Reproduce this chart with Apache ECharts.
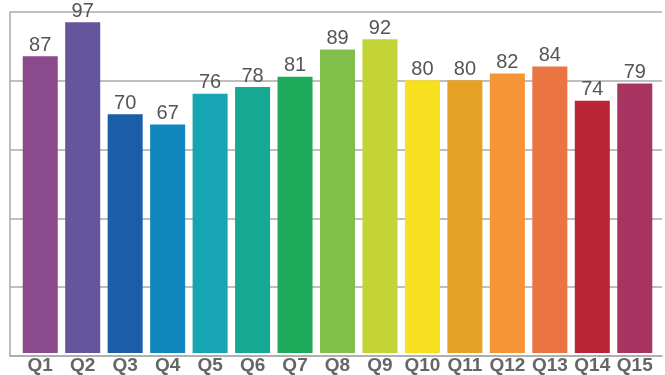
<!DOCTYPE html>
<html><head><meta charset="utf-8">
<script src="https://cdn.jsdelivr.net/npm/echarts@6/dist/echarts.min.js"></script>
<style>html,body{margin:0;padding:0;background:#fff}#c{width:665px;height:375px}</style>
</head><body><div id="c"></div>
<script>
var categories = ['Q1','Q2','Q3','Q4','Q5','Q6','Q7','Q8','Q9','Q10','Q11','Q12','Q13','Q14','Q15'];
var values = [87,97,70,67,76,78,81,89,92,80,80,82,84,74,79];
var colors = ['#8A4A8C','#65559C','#1B5EA8','#1187BE','#17A5B4','#16A892','#1DAA5A','#80C04A','#C4D335','#F8E020','#E5A227','#F59536','#EB7443','#BA2535','#A83461'];
var font = 'Liberation Sans, Arial, sans-serif';
var chart = echarts.init(document.getElementById('c'));
chart.setOption({
  animation:false,
  grid:[
    {left:10,right:3,top:12,bottom:19},
    {left:19,right:9,top:12,bottom:19}
  ],
  xAxis:[
    {gridIndex:0,type:'value',min:0,max:1,
      axisLine:{show:true,onZero:false,lineStyle:{color:'#aaa',width:1.5}},
      axisTick:{show:false},axisLabel:{show:false},splitLine:{show:false}},
    {gridIndex:1,type:'category',data:categories,
      axisLine:{show:false},axisTick:{show:false},
      axisLabel:{interval:0,color:'#666',fontWeight:'bold',fontSize:19,fontFamily:font,margin:3}}
  ],
  yAxis:[
    {gridIndex:0,type:'value',min:0,max:100,interval:20,
      axisLine:{show:true,lineStyle:{color:'#aaa',width:1.5}},
      axisTick:{show:false},axisLabel:{show:false},
      splitLine:{lineStyle:{color:'#aaa',width:1.5}}},
    {gridIndex:1,type:'value',min:0,max:100,interval:20,
      axisLine:{show:false},axisTick:{show:false},axisLabel:{show:false},splitLine:{show:false}}
  ],
  series:[{type:'bar',xAxisIndex:1,yAxisIndex:1,barCategoryGap:'17.5%',z:3,
    data:values.map(function(v,i){return {value:v,itemStyle:{color:colors[i]}};}),
    label:{show:true,position:'top',distance:1,color:'#555',fontSize:20,fontFamily:font}}]
});
</script></body></html>
